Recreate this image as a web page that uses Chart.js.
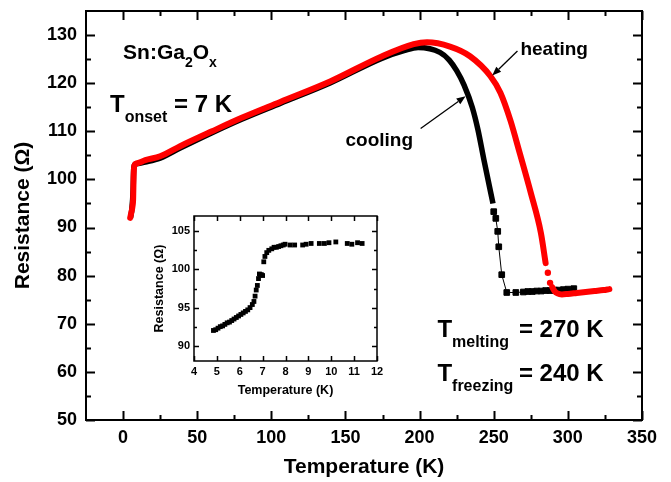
<!DOCTYPE html>
<html>
<head>
<meta charset="utf-8">
<script src="https://cdn.jsdelivr.net/npm/chart.js@4.4.0/dist/chart.umd.min.js"></script>
<style>
  html, body { margin: 0; padding: 0; background: #fff; }
  #wrap { position: relative; width: 671px; height: 482px; }
  #mainChart { position: absolute; left: 0; top: 0; }
  #insetChart { position: absolute; left: 140px; top: 205px; }
</style>
</head>
<body>
<div id="wrap">
  <canvas id="mainChart" width="671" height="482"></canvas>
  <canvas id="insetChart" width="250" height="200"></canvas>
</div>
<script>
// ---- main plot data (T in K, R in Ohm) ----
const xTicks = [0, 50, 100, 150, 200, 250, 300, 350];
const xMinor = [25, 75, 125, 175, 225, 275, 325];
const yTicks = [50, 60, 70, 80, 90, 100, 110, 120, 130];
const yMinor = [55, 65, 75, 85, 95, 105, 115, 125];

// cooling (black squares), dense part
const coolT = [5, 6, 6.8, 7.2, 8, 10, 15, 25, 38.5, 60, 80, 106, 140, 174, 190, 199, 213.7, 220, 225, 230, 235.5, 239.3, 243.3, 248, 249.5];
const coolR = [92, 94, 98, 102.3, 103.1, 103.3, 103.6, 104.4, 106.5, 109.7, 112.5, 115.8, 120.1, 125.1, 126.8, 127.4, 126.4, 124.8, 122.6, 119.6, 115.0, 110.4, 104.2, 97.2, 95];
// cooling, sparse squares and flat tail
const coolSparseT = [250, 251.4, 252.7, 253.4, 255.4, 258.8, 264.9, 270, 273, 276, 279, 282, 285, 288, 291, 294, 297, 300, 304];
const coolSparseR = [93.3, 91.9, 89.2, 86, 80.2, 76.5, 76.5, 76.6, 76.7, 76.7, 76.8, 76.8, 76.9, 76.9, 77, 77, 77.1, 77.2, 77.3];

// heating (red circles), dense part
const heatT = [4.8, 5.5, 6.3, 6.8, 7.1, 7.6, 9, 15, 25, 38.5, 60, 80, 106, 140, 174, 196, 205, 220.5, 234, 247.7, 254.5, 261.3, 267.6, 275, 281.8, 285];
const heatR = [92, 93, 94.3, 96, 100.5, 102.9, 103.3, 104, 104.8, 106.9, 110.0, 112.8, 116.1, 120.4, 125.5, 128.1, 128.5, 127.6, 125.6, 121.5, 118, 112.2, 105.4, 97.2, 88.9, 82.6];
// heating, isolated circles at the step
const heatSparseT = [286.5, 288];
const heatSparseR = [80.6, 78.5];
// heating, flat tail
const heatTailT = [289.5, 291, 293, 296, 300, 306, 312, 318, 324, 328];
const heatTailR = [77.6, 76.8, 76.3, 76.1, 76.2, 76.4, 76.6, 76.8, 77.0, 77.2];

// ---- inset data ----
const insetXTicks = [4, 5, 6, 7, 8, 9, 10, 11, 12];
const insetYTicks = [90, 95, 100, 105];
const insetYMinor = [92.5, 97.5, 102.5];
const insetT = [4.85, 4.95, 5.05, 5.15, 5.25, 5.35, 5.45, 5.55, 5.65, 5.75, 5.85, 5.95, 6.05, 6.15, 6.25, 6.35, 6.45, 6.55, 6.62, 6.67, 6.72, 6.77, 6.82, 6.86, 6.9, 6.95, 7.0, 7.05, 7.1, 7.18, 7.27, 7.4, 7.5, 7.6, 7.7, 7.8, 7.9, 7.98, 8.2, 8.4, 8.75, 8.9, 9.12, 9.48, 9.7, 9.9, 10.2, 10.7, 10.9, 11.15, 11.35];
const insetR = [92.0, 92.1, 92.3, 92.5, 92.6, 92.8, 93.0, 93.1, 93.3, 93.5, 93.7, 93.9, 94.1, 94.3, 94.5, 94.7, 95.0, 95.4, 95.8, 96.5, 97.3, 97.9, 98.8, 99.4, 99.3, 99.3, 99.2, 101.0, 101.7, 102.2, 102.5, 102.7, 102.9, 102.9, 103.0, 103.1, 103.2, 103.3, 103.2, 103.2, 103.2, 103.3, 103.4, 103.4, 103.4, 103.5, 103.6, 103.4, 103.3, 103.5, 103.4];

const FONT = '"Liberation Sans", Arial, sans-serif';

function pts(xs, ys) {
    return xs.map((x, i) => ({x: x, y: ys[i]}));
}

// frame + inward ticks on all four sides
const frameTicks = {
    id: 'frameTicks',
    afterDraw(chart, args, o) {
        const ctx = chart.ctx;
        const a = chart.chartArea;
        const sx = chart.scales.x, sy = chart.scales.y;
        ctx.save();
        ctx.strokeStyle = '#000';
        ctx.lineWidth = o.lineWidth;
        ctx.strokeRect(a.left, a.top, a.right - a.left, a.bottom - a.top);
        const xMark = (vals, len) => vals.forEach(v => {
            const p = Math.round(sx.getPixelForValue(v)) + 0.5;
            ctx.beginPath();
            ctx.moveTo(p, a.bottom); ctx.lineTo(p, a.bottom - len);
            ctx.moveTo(p, a.top); ctx.lineTo(p, a.top + len);
            ctx.stroke();
        });
        const yMark = (vals, len) => vals.forEach(v => {
            const p = Math.round(sy.getPixelForValue(v)) + 0.5;
            ctx.beginPath();
            ctx.moveTo(a.left, p); ctx.lineTo(a.left + len, p);
            ctx.moveTo(a.right, p); ctx.lineTo(a.right - len, p);
            ctx.stroke();
        });
        xMark(o.xMajor, o.major);
        xMark(o.xMinor, o.minor);
        yMark(o.yMajor, o.major);
        yMark(o.yMinor, o.minor);
        ctx.restore();
    }
};

// axis titles drawn by hand so they sit where the original has them
const axisTitles = {
    id: 'axisTitles',
    afterDraw(chart, args, o) {
        const ctx = chart.ctx;
        const a = chart.chartArea;
        ctx.save();
        ctx.fillStyle = '#000';
        ctx.textAlign = 'center';
        ctx.textBaseline = 'middle';
        ctx.font = 'bold ' + o.size + 'px ' + FONT;
        ctx.fillText(o.x, (a.left + a.right) / 2, o.xPos);
        ctx.translate(o.yPos, (a.top + a.bottom) / 2);
        ctx.rotate(-Math.PI / 2);
        ctx.fillText(o.y, 0, 0);
        ctx.restore();
    }
};

function drawRuns(ctx, x0, y0, runs) {
    let x = x0;
    runs.forEach(r => {
        ctx.font = 'bold ' + r.size + 'px ' + FONT;
        if (r.at !== undefined) x = r.at;
        ctx.fillText(r.text, x, y0 + (r.dy || 0));
        x += ctx.measureText(r.text).width;
    });
}

function arrow(ctx, x1, y1, x2, y2) {
    const ang = Math.atan2(y2 - y1, x2 - x1);
    const L = 9, W = 3.5;
    ctx.beginPath();
    ctx.moveTo(x1, y1);
    ctx.lineTo(x2 - L * Math.cos(ang), y2 - L * Math.sin(ang));
    ctx.stroke();
    ctx.beginPath();
    ctx.moveTo(x2, y2);
    ctx.lineTo(x2 - L * Math.cos(ang) + W * Math.sin(ang), y2 - L * Math.sin(ang) - W * Math.cos(ang));
    ctx.lineTo(x2 - L * Math.cos(ang) - W * Math.sin(ang), y2 - L * Math.sin(ang) + W * Math.cos(ang));
    ctx.closePath();
    ctx.fill();
}

// labels and arrows, placed in data units
const annotations = {
    id: 'annotations',
    afterDraw(chart) {
        const ctx = chart.ctx;
        const sx = chart.scales.x, sy = chart.scales.y;
        const X = v => sx.getPixelForValue(v);
        const Y = v => sy.getPixelForValue(v);
        ctx.save();
        ctx.fillStyle = '#000';
        ctx.strokeStyle = '#000';
        ctx.textAlign = 'left';
        ctx.textBaseline = 'alphabetic';

        drawRuns(ctx, X(0), Y(125), [
            {text: 'Sn:Ga', size: 21},
            {text: '2', size: 14, dy: 8},
            {text: 'O', size: 21},
            {text: 'x', size: 14, dy: 8}
        ]);
        drawRuns(ctx, X(-8.8), Y(114), [
            {text: 'T', size: 24},
            {text: 'onset', size: 16, dy: 10},
            {text: ' = 7 K', size: 24}
        ]);
        drawRuns(ctx, X(212), Y(67.3), [
            {text: 'T', size: 24},
            {text: 'melting', size: 16, dy: 10},
            {text: '= 270 K', size: 24, at: X(267)}
        ]);
        drawRuns(ctx, X(212), Y(58.1), [
            {text: 'T', size: 24},
            {text: 'freezing', size: 16, dy: 10},
            {text: '= 240 K', size: 24, at: X(267)}
        ]);
        drawRuns(ctx, X(268), Y(125.8), [{text: 'heating', size: 19}]);
        drawRuns(ctx, X(150), Y(107), [{text: 'cooling', size: 19}]);

        ctx.lineWidth = 1.3;
        arrow(ctx, X(266), Y(126.7), X(249), Y(121.6));
        arrow(ctx, X(200.7), Y(110.6), X(231), Y(117.3));
        ctx.restore();
    }
};

// keep the plot box where the original has it
function fixY(width) {
    return s => { s.width = width; s.paddingTop = 0; s.paddingBottom = 0; };
}
function fixX(height) {
    return s => { s.height = height; s.paddingLeft = 0; s.paddingRight = 0; };
}

new Chart(document.getElementById('mainChart'), {
    type: 'scatter',
    data: {
        datasets: [
            {
                data: pts(heatT, heatR), showLine: true, order: 1,
                borderColor: '#ff0000', borderWidth: 6, pointRadius: 0,
                borderCapStyle: 'round', borderJoinStyle: 'round',
                cubicInterpolationMode: 'monotone'
            },
            {
                data: pts(heatSparseT, heatSparseR), showLine: false, order: 1,
                pointStyle: 'circle', pointRadius: 3.2,
                backgroundColor: '#ff0000', borderColor: '#ff0000', borderWidth: 0
            },
            {
                data: pts(heatTailT, heatTailR), showLine: true, order: 1,
                borderColor: '#ff0000', borderWidth: 6, pointRadius: 0,
                borderCapStyle: 'round', borderJoinStyle: 'round',
                cubicInterpolationMode: 'monotone'
            },
            {
                data: pts(coolT, coolR), showLine: true, order: 2,
                borderColor: '#000', borderWidth: 5.5, pointRadius: 0,
                borderCapStyle: 'butt', borderJoinStyle: 'round',
                cubicInterpolationMode: 'monotone'
            },
            {
                data: pts(coolSparseT, coolSparseR), showLine: true, order: 2,
                borderColor: '#000', borderWidth: 1, pointStyle: 'rect', pointRadius: 4,
                backgroundColor: '#000'
            }
        ]
    },
    options: {
        responsive: false,
        animation: false,
        events: [],
        layout: {padding: {top: 11, right: 29, left: 0, bottom: 0}},
        plugins: {
            legend: {display: false},
            tooltip: {enabled: false},
            frameTicks: {lineWidth: 2, major: 9, minor: 5, xMajor: xTicks, xMinor: xMinor, yMajor: yTicks, yMinor: yMinor},
            axisTitles: {x: 'Temperature (K)', y: 'Resistance (\u03A9)', size: 21, xPos: 467, yPos: 23}
        },
        scales: {
            x: {
                type: 'linear', min: -25, max: 350,
                grid: {display: false, drawTicks: false},
                border: {display: false},
                afterBuildTicks: s => { s.ticks = xTicks.map(v => ({value: v})); },
                afterFit: fixX(62),
                ticks: {color: '#000', padding: 7, font: {family: FONT, size: 18, weight: 'bold'}, maxRotation: 0}
            },
            y: {
                type: 'linear', min: 50, max: 135,
                grid: {display: false, drawTicks: false},
                border: {display: false},
                afterBuildTicks: s => { s.ticks = yTicks.map(v => ({value: v})); },
                afterFit: fixY(86),
                ticks: {color: '#000', padding: 9, font: {family: FONT, size: 18, weight: 'bold'}}
            }
        }
    },
    plugins: [frameTicks, axisTitles, annotations]
});

new Chart(document.getElementById('insetChart'), {
    type: 'scatter',
    data: {
        datasets: [{
            data: pts(insetT, insetR), showLine: false,
            pointStyle: 'rect', pointRadius: 3.4,
            backgroundColor: '#000', borderColor: '#000', borderWidth: 0
        }]
    },
    options: {
        responsive: false,
        animation: false,
        events: [],
        layout: {padding: {top: 11, right: 13, left: 0, bottom: 0}},
        plugins: {
            legend: {display: false},
            tooltip: {enabled: false},
            frameTicks: {lineWidth: 1.5, major: 5, minor: 3, xMajor: insetXTicks, xMinor: [], yMajor: insetYTicks, yMinor: insetYMinor},
            axisTitles: {x: 'Temperature (K)', y: 'Resistance (\u03A9)', size: 12.5, xPos: 186, yPos: 20}
        },
        scales: {
            x: {
                type: 'linear', min: 4, max: 12,
                grid: {display: false, drawTicks: false},
                border: {display: false},
                afterBuildTicks: s => { s.ticks = insetXTicks.map(v => ({value: v})); },
                afterFit: fixX(44),
                ticks: {color: '#000', padding: 4, font: {family: FONT, size: 11, weight: 'bold'}, maxRotation: 0}
            },
            y: {
                type: 'linear', min: 88, max: 107,
                grid: {display: false, drawTicks: false},
                border: {display: false},
                afterBuildTicks: s => { s.ticks = insetYTicks.map(v => ({value: v})); },
                afterFit: fixY(54),
                ticks: {color: '#000', padding: 4, font: {family: FONT, size: 11, weight: 'bold'}}
            }
        }
    },
    plugins: [frameTicks, axisTitles]
});
</script>
</body>
</html>
